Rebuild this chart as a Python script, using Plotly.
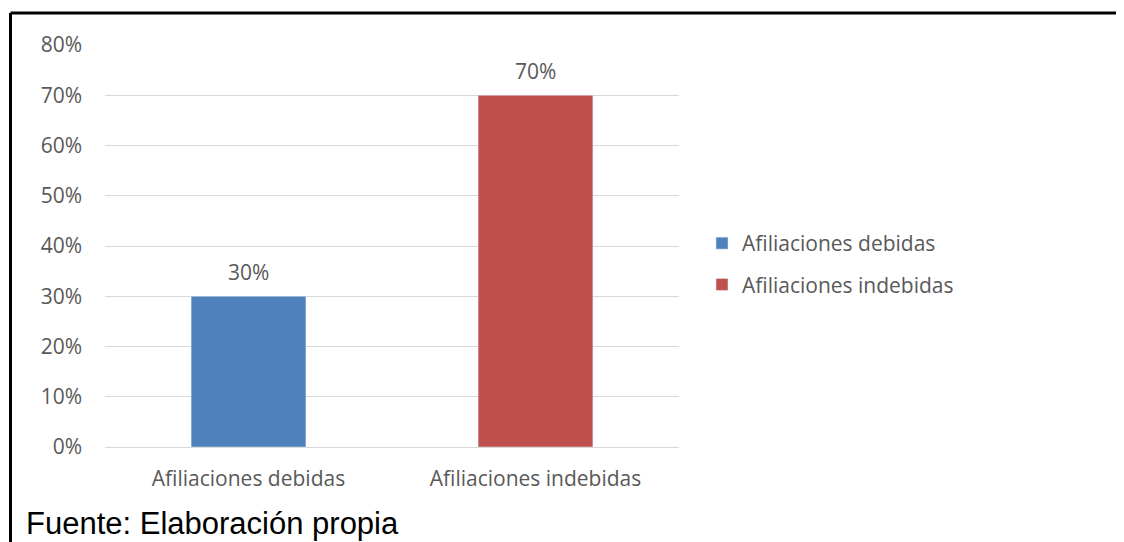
import plotly.graph_objects as go

categories = ["Afiliaciones debidas", "Afiliaciones indebidas"]
values = [0.30, 0.70]
value_labels = ["30%", "70%"]
colors = ["#4F81BD", "#C0504D"]
y_ticks = [0, 0.1, 0.2, 0.3, 0.4, 0.5, 0.6, 0.7, 0.8]
y_tick_labels = ["0%", "10%", "20%", "30%", "40%", "50%", "60%", "70%", "80%"]
source_text = "Fuente: Elaboración propia"

# page offset (body margin) compensation
O = 8
W, H = 1124 - O, 542 - O
L, R, T, B = 105 - O, 679 - O, 45 - O, 447 - O

def px_x(p):
    return (p - O - L) / (R - L)

def px_y(p):
    return (B - (p - O)) / (B - T)

FONT = "Open Sans"
GREY = "#595959"
FS = 21

fig = go.Figure()
for i, (cat, val, col) in enumerate(zip(categories, values, colors)):
    fig.add_trace(go.Bar(
        x=[cat], y=[val], name=cat, marker_color=col, width=0.4,
        textposition="none", legendgroup=f"g{i}",
    ))

annotations = [
    dict(x=cat, y=val, xref="x", yref="y", text=lab, showarrow=False,
         yanchor="middle", yshift=24,
         font=dict(family=FONT, size=FS, color=GREY))
    for cat, val, lab in zip(categories, values, value_labels)
]
annotations.append(
    dict(text=source_text, xref="paper", yref="paper",
         x=px_x(24), y=px_y(523), xanchor="left", yanchor="middle",
         showarrow=False,
         font=dict(family="Liberation Sans", size=31, color="black"))
)

fig.update_layout(
    width=W, height=H,
    margin=dict(l=L, r=W - R, t=T, b=H - B, pad=0),
    paper_bgcolor="white", plot_bgcolor="white",
    barmode="overlay",
    showlegend=True,
    legend=dict(
        x=px_x(702), xanchor="left", y=px_y(264), yanchor="middle",
        font=dict(family=FONT, size=FS, color=GREY),
        tracegroupgap=11, itemwidth=30,
        bgcolor="rgba(0,0,0,0)",
    ),
    xaxis=dict(
        type="category", categoryorder="array", categoryarray=categories,
        showgrid=False, showline=False, zeroline=False,
        tickfont=dict(family=FONT, size=FS, color=GREY),
        ticklabelstandoff=17,
    ),
    yaxis=dict(
        range=[0, 0.8], tickvals=y_ticks, ticktext=y_tick_labels,
        showgrid=True, gridcolor="#D9D9D9", gridwidth=1,
        zeroline=True, zerolinecolor="#D9D9D9", zerolinewidth=1,
        showline=False,
        tickfont=dict(family=FONT, size=FS, color=GREY),
        ticklabelstandoff=22,
    ),
    shapes=[
        dict(type="line", xref="paper", yref="paper",
             x0=px_x(10.5), x1=px_x(1140), y0=px_y(13), y1=px_y(13),
             line=dict(color="black", width=3)),
        dict(type="line", xref="paper", yref="paper",
             x0=px_x(10.5), x1=px_x(10.5), y0=px_y(13), y1=px_y(560),
             line=dict(color="black", width=3)),
    ],
    annotations=annotations,
)

fig.write_html("out.html")
